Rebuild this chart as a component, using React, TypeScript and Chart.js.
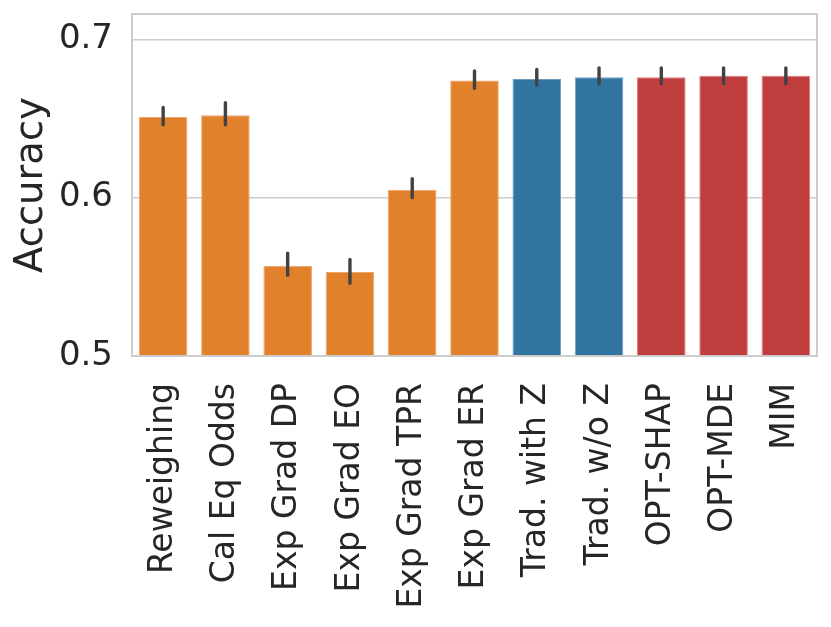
import { useEffect, useRef } from "react";
import { Chart, registerables } from "chart.js";

Chart.register(...registerables);

const categories = [
  "Reweighing",
  "Cal Eq Odds",
  "Exp Grad DP",
  "Exp Grad EO",
  "Exp Grad TPR",
  "Exp Grad ER",
  "Trad. with Z",
  "Trad. w/o Z",
  "OPT-SHAP",
  "OPT-MDE",
  "MIM",
];
const accuracy = [0.651, 0.652, 0.557, 0.553, 0.605, 0.674, 0.675, 0.676, 0.676, 0.677, 0.677];
const errLow = [0.646, 0.646, 0.551, 0.546, 0.600, 0.669, 0.671, 0.672, 0.672, 0.672, 0.672];
const errHigh = [0.657, 0.660, 0.565, 0.561, 0.612, 0.680, 0.681, 0.682, 0.682, 0.682, 0.682];
const groups = [
  "baseline", "baseline", "baseline", "baseline", "baseline", "baseline",
  "traditional", "traditional",
  "proposed", "proposed", "proposed",
];
const yTicks = [0.5, 0.6, 0.7];
const yMin = 0.5;
const yMax = 0.716;

const groupColors: Record<string, string> = {
  baseline: "#e1812c",
  traditional: "#3274a1",
  proposed: "#c03d3e",
};
const groupEdges: Record<string, string> = {
  baseline: "#eea56a",
  traditional: "#6b9cc0",
  proposed: "#d97878",
};

const FONT = "'DejaVu Sans', sans-serif";

const errorBars = {
  id: "errorBars",
  afterDatasetsDraw(chart: Chart) {
    const { ctx, chartArea } = chart;
    const meta = chart.getDatasetMeta(0);
    const y = chart.scales.y;
    ctx.save();
    ctx.strokeStyle = "#424242";
    ctx.lineWidth = 3.4;
    ctx.lineCap = "round";
    meta.data.forEach((bar: any, i: number) => {
      ctx.beginPath();
      ctx.moveTo(bar.x, y.getPixelForValue(errLow[i]));
      ctx.lineTo(bar.x, y.getPixelForValue(errHigh[i]));
      ctx.stroke();
    });
    // axes frame
    ctx.strokeStyle = "#cccccc";
    ctx.lineWidth = 2;
    ctx.lineCap = "butt";
    ctx.strokeRect(
      chartArea.left,
      chartArea.top,
      chartArea.right - chartArea.left,
      chartArea.bottom - chartArea.top
    );
    ctx.restore();
  },
};

export default function App() {
  const canvasRef = useRef<HTMLCanvasElement>(null);
  const chartRef = useRef<Chart | null>(null);

  useEffect(() => {
    document.body.style.margin = "0";
    if (!canvasRef.current) return;
    if (chartRef.current) chartRef.current.destroy();

    chartRef.current = new Chart(canvasRef.current, {
      type: "bar",
      data: {
        labels: categories,
        datasets: [
          {
            label: "Accuracy",
            data: accuracy,
            backgroundColor: groups.map((g) => groupColors[g]),
            borderColor: groups.map((g) => groupEdges[g]),
            borderWidth: 1,
            barPercentage: 0.78,
            categoryPercentage: 1,
          },
        ],
      },
      options: {
        animation: false,
        responsive: true,
        maintainAspectRatio: false,
        layout: { padding: { left: 0, top: 14, right: 14, bottom: 0 } },
        plugins: {
          legend: { display: false },
          tooltip: { enabled: false },
        },
        scales: {
          x: {
            grid: { display: false },
            border: { display: false },
            ticks: {
              color: "#262626",
              font: { family: FONT, size: 33 },
              maxRotation: 90,
              minRotation: 90,
              padding: 19,
              autoSkip: false,
            },
            afterFit: (scale: any) => {
              scale.height = 271;
              scale.paddingLeft = 0;
              scale.paddingRight = 0;
            },
          },
          y: {
            min: yMin,
            max: yMax,
            grid: { color: "#cccccc", lineWidth: 1.6, drawTicks: false },
            border: { display: false },
            ticks: {
              color: "#262626",
              font: { family: FONT, size: 34 },
              padding: 19,
              callback: (v: any) => Number(v).toFixed(1),
            },
            afterBuildTicks: (scale: any) => {
              scale.ticks = yTicks.map((v) => ({ value: v }));
            },
            afterFit: (scale: any) => {
              scale.width = 132;
              scale.paddingTop = 0;
              scale.paddingBottom = 0;
            },
            title: {
              display: true,
              text: "Accuracy",
              color: "#262626",
              font: { family: FONT, size: 38.5 },
              padding: { top: 9, bottom: 0 },
            },
          },
        },
      },
      plugins: [errorBars],
    });

    return () => {
      if (chartRef.current) {
        chartRef.current.destroy();
        chartRef.current = null;
      }
    };
  }, []);

  return (
    <div style={{ position: "absolute", left: 0, top: 0, width: 831, height: 627, background: "#fff" }}>
      <canvas ref={canvasRef}></canvas>
    </div>
  );
}
